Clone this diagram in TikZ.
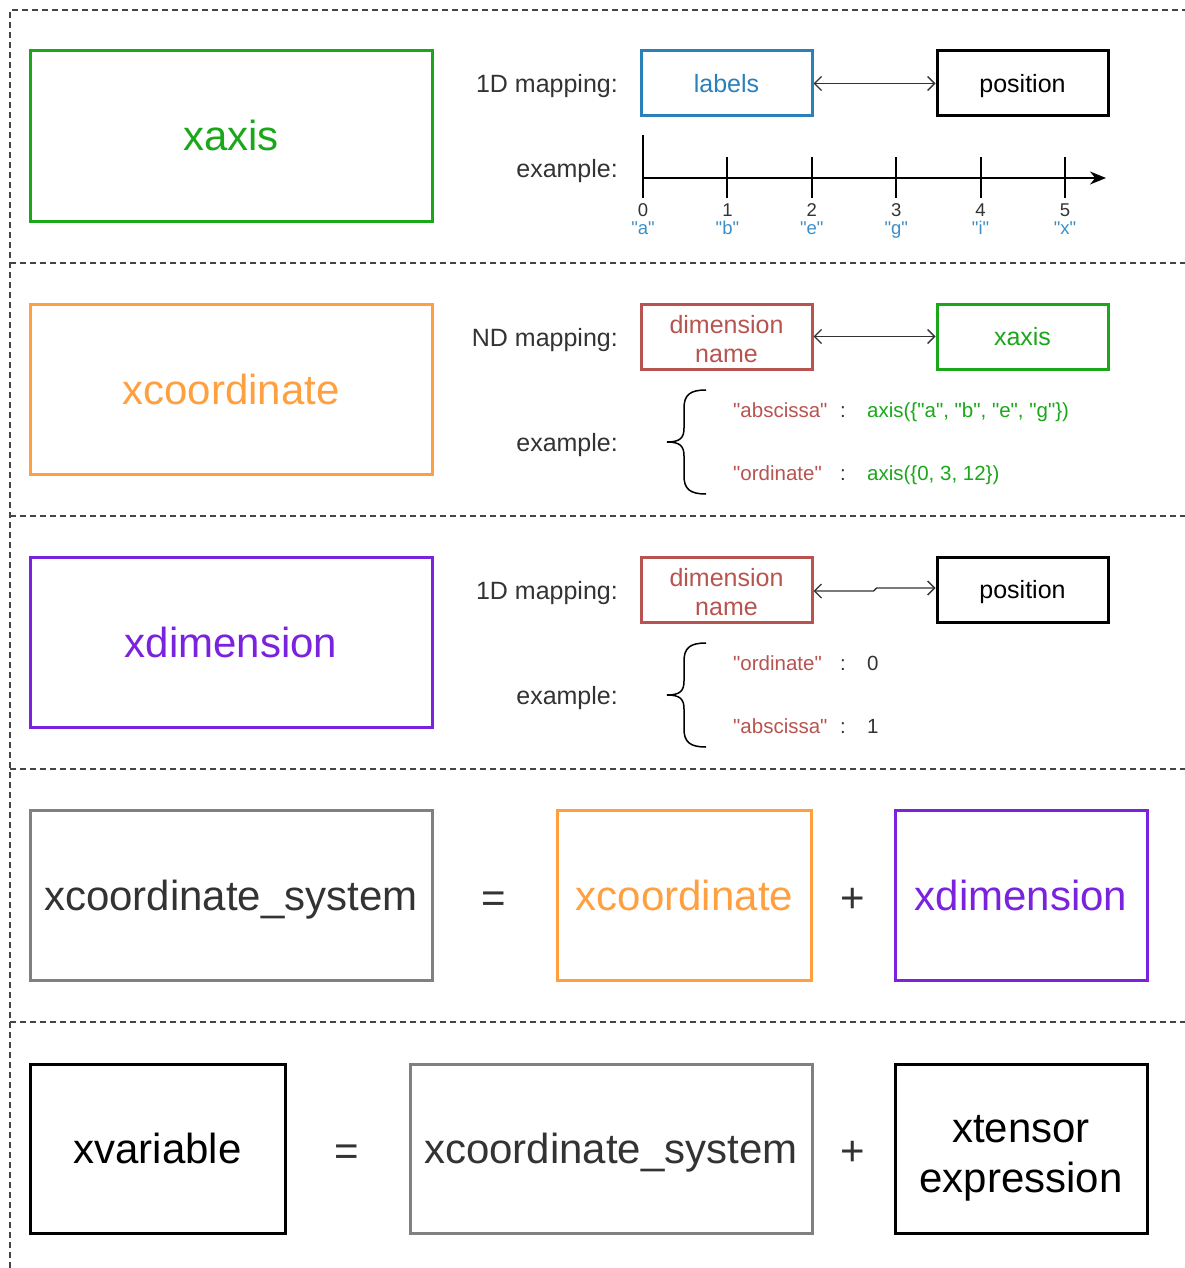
\documentclass[tikz,border=0pt]{standalone}
\usepackage{fontspec}
\setmainfont{Liberation Sans}
\usetikzlibrary{arrows.meta}
\definecolor{cgreen}{HTML}{1AA81A}
\definecolor{corange}{HTML}{FFA040}
\definecolor{cpurple}{HTML}{7A22DD}
\definecolor{cred}{HTML}{B85450}
\definecolor{cblue}{HTML}{2A80B9}
\definecolor{cblue2}{HTML}{3A8FC8}
\definecolor{cgray}{HTML}{808080}
\definecolor{cdark}{HTML}{333333}
\definecolor{cframe}{HTML}{444444}
\newcommand\myfs[1]{\fontsize{#1}{#1}\selectfont}
\newcommand\myq{\XeTeXglyph\XeTeXcharglyph"22\relax}
\tikzset{
  box/.style={draw, line width=3pt, inner sep=0pt},
  bigbox/.style={box, minimum width=402pt, minimum height=170pt},
  midbox/.style={box, minimum width=254pt, minimum height=170pt},
  smallbox/.style={box, minimum width=171pt, minimum height=65pt},
  bigtxt/.style={font={\myfs{42}}, text height=30pt, text depth=0pt, inner sep=0pt},
  medtxt/.style={font={\myfs{25}}, text height=18pt, text depth=0pt, inner sep=0pt},
  smtxt/.style={font={\myfs{20.5}}, text height=14.7pt, text depth=0pt, inner sep=0pt},
  tinytxt/.style={font={\myfs{18.5}}, text height=13.2pt, text depth=0pt, inner sep=0pt},
  frame/.style={draw=cframe, line width=1.3pt, dash pattern=on 6pt off 4pt},
  dbl/.style={draw=cdark, line width=1.4pt, {Straight Barb[length=7pt,width=14pt]}-{Straight Barb[length=7pt,width=14pt]}},
  axisline/.style={draw=black, line width=2pt},
  bracestyle/.style={draw=black, line width=1.5pt},
}
\begin{document}
\begin{tikzpicture}[x=1pt,y=-1pt]
\useasboundingbox[fill=white] (0,0) rectangle (1185,1268);
% frame and separators
\draw[frame] (10,1268) -- (10,10) -- (1185,10);
\foreach \yy in {263,516,769,1022} \draw[frame] (10,\yy) -- (1185,\yy);

% ---------- section 1 ----------
\node[bigbox, draw=cgreen, bigtxt, text=cgreen] (xaxis) at (231,136) {xaxis};
\node[medtxt, anchor=east, text=cdark] (map1) at (618,84) {1D mapping:};
\node[smallbox, draw=cblue, medtxt, text=cblue] (labels) at (726.5,83.5) {labels};
\node[smallbox, draw=black, medtxt, text=black] (position) at (1022.5,83.5) {position};
\draw[dbl] (labels) -- (position);
\node[medtxt, anchor=east, text=cdark] (ex1) at (618,169) {example:};
\coordinate (ax0) at (643,178);
\coordinate (axend) at (1106,178);
\draw[axisline, -{Stealth[length=16pt,width=13pt]}] (ax0) -- (axend);
\draw[axisline] (643,135) -- (643,198);
\foreach \i/\lab in {0/a,1/b,2/e,3/g,4/i,5/x}{
  \pgfmathsetmacro{\xx}{643+84.4*\i}
  \ifnum\i>0 \draw[axisline] (\xx,157) -- (\xx,198);\fi
  \node[tinytxt, text=cdark] (num\i) at (\xx,210) {\i};
  \node[tinytxt, text=cblue2] (lab\i) at (\xx,228) {\myq\lab\myq};
}

% ---------- section 2 ----------
\node[bigbox, draw=corange, bigtxt, text=corange] (xcoord) at (231,389) {xcoordinate};
\node[medtxt, anchor=east, text=cdark] (map2) at (618,337) {ND mapping:};
\node[smallbox, draw=cred] (dimname) at (726.5,336.5) {};
\node[medtxt, text=cred] (dimname-a) at (726.5,324) {dimension};
\node[medtxt, text=cred] (dimname-b) at (726.5,353) {name};
\node[smallbox, draw=cgreen, medtxt, text=cgreen] (xaxissm) at (1022.5,336.5) {xaxis};
\draw[dbl] (dimname) -- (xaxissm);
\node[medtxt, anchor=east, text=cdark] (ex2) at (618,442) {example:};
\draw[bracestyle] (706,390) .. controls (690,390) and (684,395) .. (684,408) -- (684,428)
  .. controls (684,438) and (680,442) .. (667,442)
  .. controls (680,442) and (684,446) .. (684,456) -- (684,476)
  .. controls (684,489) and (690,494) .. (706,494);
\node[smtxt, anchor=west, text=cred] (k21) at (733,410) {\myq abscissa\myq};
\node[smtxt, text=cdark] (c21) at (843,410) {:};
\node[smtxt, anchor=west, text=cgreen] (v21) at (867,410) {axis(\{\myq a\myq, \myq b\myq, \myq e\myq, \myq g\myq\})};
\node[smtxt, anchor=west, text=cred] (k22) at (733,473) {\myq ordinate\myq};
\node[smtxt, text=cdark] (c22) at (843,473) {:};
\node[smtxt, anchor=west, text=cgreen] (v22) at (867,473) {axis(\{0, 3, 12\})};

% ---------- section 3 ----------
\node[bigbox, draw=cpurple, bigtxt, text=cpurple] (xdim) at (231,642) {xdimension};
\node[medtxt, anchor=east, text=cdark] (map3) at (618,590) {1D mapping:};
\node[smallbox, draw=cred] (dimname2) at (726.5,589.5) {};
\node[medtxt, text=cred] (dimname2-a) at (726.5,577) {dimension};
\node[medtxt, text=cred] (dimname2-b) at (726.5,606) {name};
\node[smallbox, draw=black, medtxt, text=black] (position2) at (1022.5,589.5) {position};
\draw[dbl] ([yshift=-1.5pt]dimname2.east) -- ++(60,0) -- ++(3,-3) -- ([yshift=1.5pt]position2.west);
\node[medtxt, anchor=east, text=cdark] (ex3) at (618,695) {example:};
\draw[bracestyle] (706,643) .. controls (690,643) and (684,648) .. (684,661) -- (684,681)
  .. controls (684,691) and (680,695) .. (667,695)
  .. controls (680,695) and (684,699) .. (684,709) -- (684,729)
  .. controls (684,742) and (690,747) .. (706,747);
\node[smtxt, anchor=west, text=cred] (k31) at (733,663) {\myq ordinate\myq};
\node[smtxt, text=cdark] (c31) at (843,663) {:};
\node[smtxt, anchor=west, text=cdark] (v31) at (867,663) {0};
\node[smtxt, anchor=west, text=cred] (k32) at (733,726) {\myq abscissa\myq};
\node[smtxt, text=cdark] (c32) at (843,726) {:};
\node[smtxt, anchor=west, text=cdark] (v32) at (867,726) {1};

% ---------- section 4 ----------
\node[bigbox, draw=cgray, bigtxt, text=cdark] (xcs) at (231,895) {xcoordinate\_system};
\node[bigtxt, text=cdark] (eq1) at (494,897) {=};
\node[midbox, draw=corange, bigtxt, text=corange] (xcoord2) at (684.5,895) {xcoordinate};
\node[bigtxt, text=cdark] (plus1) at (853,897) {+};
\node[midbox, minimum width=252pt, draw=cpurple, bigtxt, text=cpurple] (xdim2) at (1021,895) {xdimension};

% ---------- section 5 ----------
\node[midbox, minimum width=255pt, minimum height=169pt, draw=black, bigtxt, text=black] (xvar) at (157.5,1148.5) {xvariable};
\node[bigtxt, text=cdark] (eq2) at (347,1150) {=};
\node[bigbox, minimum height=169pt, draw=cgray, bigtxt, text=cdark] (xcs2) at (611,1148.5) {xcoordinate\_system};
\node[bigtxt, text=cdark] (plus2) at (853,1150) {+};
\node[midbox, minimum width=252pt, minimum height=169pt, draw=black] (xtensor) at (1021,1148.5) {};
\node[bigtxt, text=black] (xtensor-a) at (1021,1127) {xtensor};
\node[bigtxt, text=black] (xtensor-b) at (1021,1177) {expression};
\end{tikzpicture}
\end{document}
